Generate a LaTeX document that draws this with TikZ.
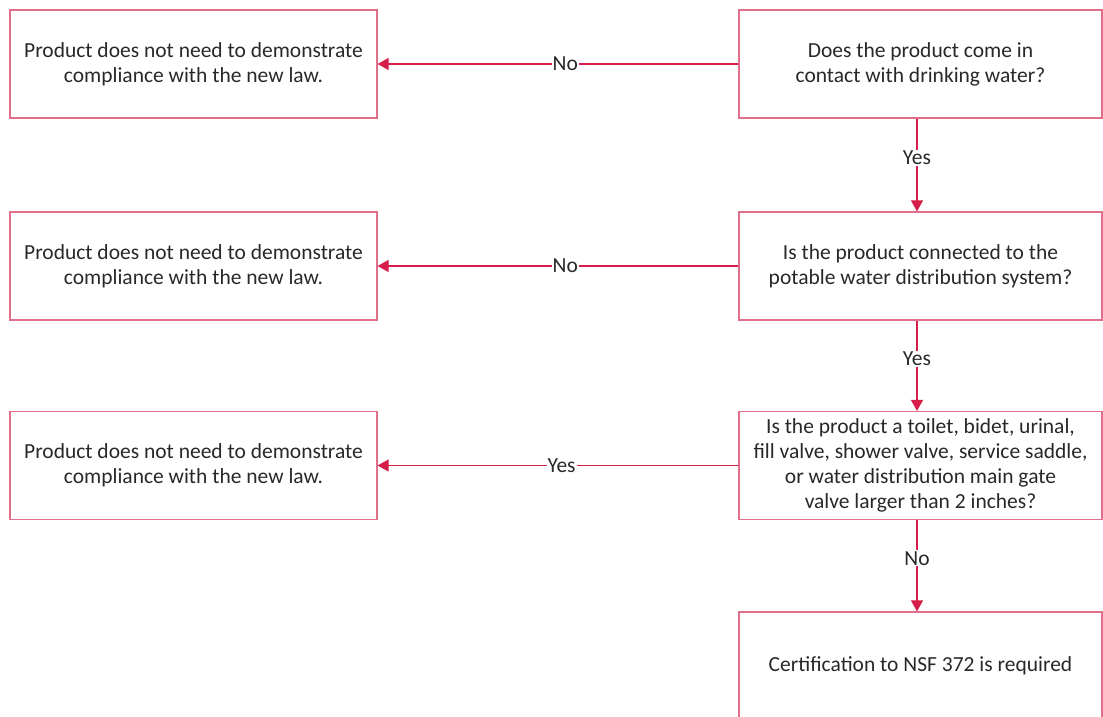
\documentclass[tikz,border=0pt]{standalone}
\usepackage{fontspec}
\setmainfont{Carlito}
\usetikzlibrary{arrows.meta}

\definecolor{rim}{RGB}{226,110,138}
\definecolor{crimson}{RGB}{214,30,74}
\definecolor{ink}{RGB}{40,40,40}

\begin{document}
\begin{tikzpicture}[x=1pt,y=1pt,yscale=-1,
	box/.style={draw=rim, line width=1.2pt, minimum height=108pt, align=center, text=ink, font=\fontsize{21.5}{25}\selectfont},
	qbox/.style={box, minimum width=363pt},
	abox/.style={box, minimum width=367pt},
	link/.style={draw=crimson, line width=1.1pt, -{Triangle[width=12pt,length=11pt]}},
	lbl/.style={fill=white, inner sep=1pt, text=ink, font=\fontsize{21.5}{25}\selectfont}]
		% Fix the canvas to the size of the reference
		\useasboundingbox (0,0) rectangle (1103,717);

		% Question boxes (right column)
		\node[qbox] (q1) at (920.5,64) {Does the product come in\\contact with drinking water?};
		\node[qbox] (q2) at (920.5,266) {Is the product connected to the\\potable water distribution system?};
		\node[qbox] (q3) at (920.5,465.5) {Is the product a toilet, bidet, urinal,\\fill valve, shower valve, service saddle,\\or water distribution main gate\\valve larger than 2 inches?};
		\node[qbox] (req) at (920.5,666) {Certification to NSF 372 is required};

		% Answer boxes (left column)
		\node[abox] (a1) at (193.5,64) {Product does not need to demonstrate\\compliance with the new law.};
		\node[abox] (a2) at (193.5,266) {Product does not need to demonstrate\\compliance with the new law.};
		\node[abox] (a3) at (193.5,465.5) {Product does not need to demonstrate\\compliance with the new law.};

		% Horizontal arrows to the answers
		\draw[link] (q1.west) -- node[lbl, pos=0.48] {No} (a1.east);
		\draw[link] (q2.west) -- node[lbl, pos=0.48] {No} (a2.east);
		\draw[link] (q3.west) -- node[lbl, pos=0.49] {Yes} (a3.east);

		% Vertical arrows down the column
		\draw[link] ([xshift=-3.5pt]q1.south) -- node[lbl, pos=0.42] {Yes} ([xshift=-3.5pt]q2.north);
		\draw[link] ([xshift=-3.5pt]q2.south) -- node[lbl, pos=0.42] {Yes} ([xshift=-3.5pt]q3.north);
		\draw[link] ([xshift=-3.5pt]q3.south) -- node[lbl, pos=0.42] {No} ([xshift=-3.5pt]req.north);
\end{tikzpicture}
\end{document}
